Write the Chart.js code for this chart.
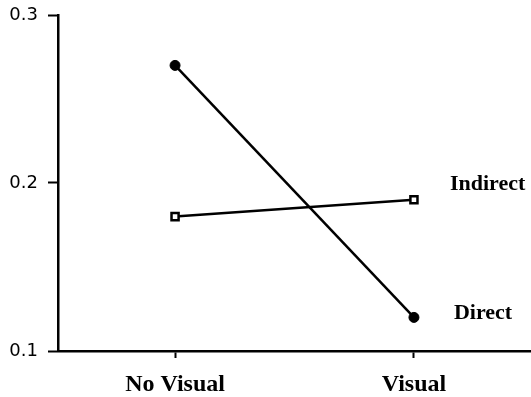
<!DOCTYPE html>
<html>
<head>
<meta charset="utf-8">
<script src="https://cdn.jsdelivr.net/npm/chart.js@4/dist/chart.umd.min.js"></script>
<style>
  html, body { margin: 0; padding: 0; background: #fff; }
  #wrap { width: 531px; height: 397px; }
</style>
</head>
<body>
<div id="wrap"><canvas id="lineChart"></canvas></div>
<script>
// data
const categories = ["No Visual", "Visual"];
const directValues = [0.27, 0.12];
const indirectValues = [0.18, 0.19];
const yTicks = [0.1, 0.2, 0.3];
const seriesNames = ["Direct", "Indirect"];

const serif = "'Liberation Serif', 'Times New Roman', serif";
const sans = "'DejaVu Sans', Arial, sans-serif";

function toPoints(values) {
    return values.map((v, i) => ({ x: i, y: v }));
}

// series names written at the right end of each line
const endLabels = {
    id: 'endLabels',
    afterDatasetsDraw(chart) {
        const ctx = chart.ctx;
        const offsets = [-4, -15];
        ctx.save();
        ctx.font = "bold 22px " + serif;
        ctx.fillStyle = "#000";
        ctx.textBaseline = "middle";
        chart.data.datasets.forEach((ds, i) => {
            const meta = chart.getDatasetMeta(i);
            const last = meta.data[meta.data.length - 1];
            ctx.fillText(seriesNames[i], last.x + (i == 0 ? 40 : 36), last.y + offsets[i]);
        });
        ctx.restore();
    }
};

const ctx = document.getElementById('lineChart').getContext('2d');
const lineChart = new Chart(ctx, {
    type: 'line',
    data: {
        datasets: [{
            label: seriesNames[0],
            data: toPoints(directValues),
            borderColor: '#000',
            backgroundColor: '#000',
            borderWidth: 2.5,
            pointStyle: 'circle',
            pointRadius: 5,
            pointBorderWidth: 1
        }, {
            label: seriesNames[1],
            data: toPoints(indirectValues),
            borderColor: '#000',
            backgroundColor: '#fff',
            borderWidth: 2.5,
            pointStyle: 'rect',
            pointRadius: 5,
            pointBorderWidth: 2.5
        }]
    },
    options: {
        responsive: true,
        maintainAspectRatio: false,
        animation: false,
        layout: { autoPadding: false, padding: 0 },
        plugins: {
            legend: { display: false },
            tooltip: { enabled: false }
        },
        scales: {
            x: {
                type: 'linear',
                min: -0.49,
                max: 1.49,
                afterBuildTicks: axis => { axis.ticks = categories.map((c, i) => ({ value: i })); },
                afterFit: axis => { axis.height = 46; },
                ticks: {
                    callback: v => categories[v],
                    color: '#000',
                    font: { family: serif, size: 24, weight: 'bold' },
                    padding: 12,
                    maxRotation: 0
                },
                grid: {
                    drawOnChartArea: false,
                    drawTicks: true,
                    tickLength: 7,
                    tickWidth: 2,
                    color: '#000'
                },
                border: { color: '#000', width: 2.5 }
            },
            y: {
                min: 0.1,
                max: 0.3,
                afterBuildTicks: axis => { axis.ticks = yTicks.map(v => ({ value: v })); },
                afterFit: axis => {
                    axis.width = 58;
                    axis.paddingTop = 15;
                },
                ticks: {
                    callback: v => v.toFixed(1),
                    color: '#000',
                    font: { family: sans, size: 18 },
                    padding: 10
                },
                grid: {
                    drawOnChartArea: false,
                    drawTicks: true,
                    tickLength: 10,
                    tickWidth: 2,
                    color: '#000'
                },
                border: { color: '#000', width: 2.5 }
            }
        }
    },
    plugins: [endLabels]
});
</script>
</body>
</html>
